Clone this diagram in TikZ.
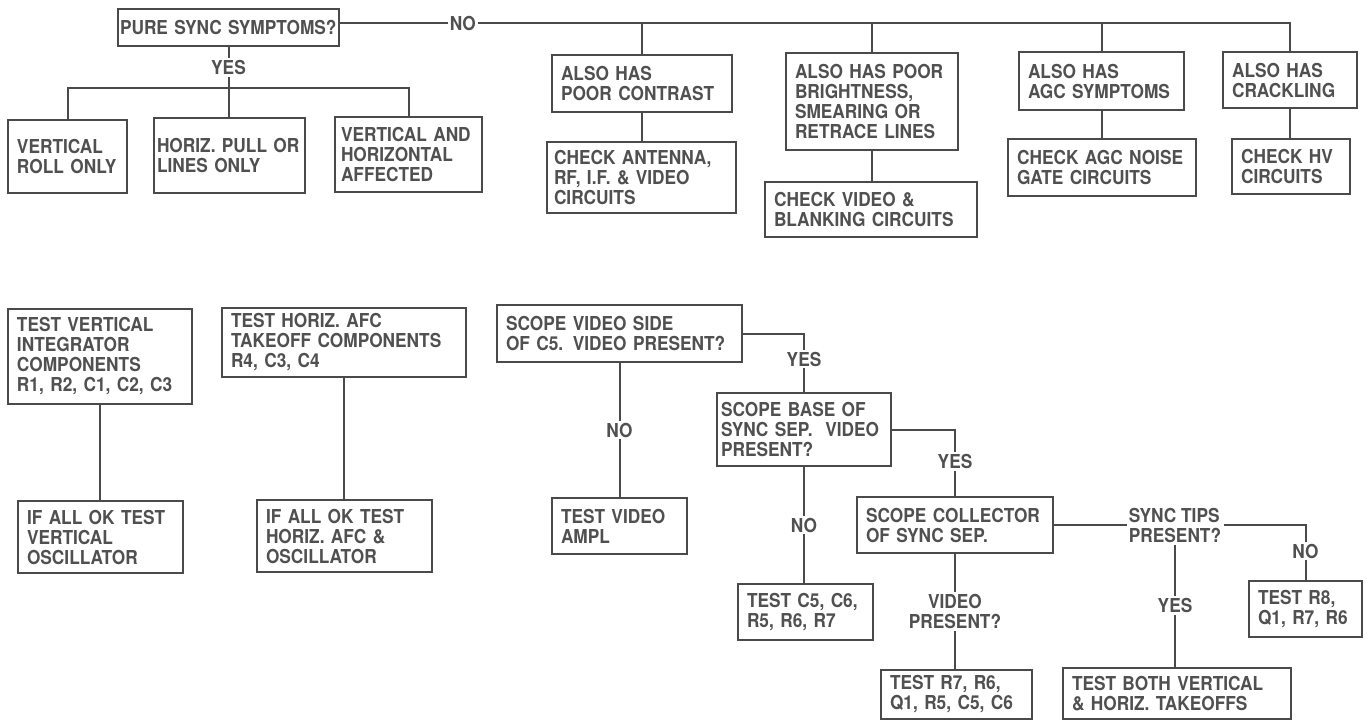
\documentclass[tikz,border=0pt]{standalone}
\usepackage{fontspec}
\setmainfont{TeX Gyre Heros}[FakeStretch=0.9]
\definecolor{linecol}{HTML}{4A4A4A}
\definecolor{textcol}{HTML}{505050}
\hyphenpenalty=10000\relax
\exhyphenpenalty=10000\relax
\newcommand\mybox[7][4.5]{%
  \pgfmathsetmacro\bw{(#4-#3)*0.5}%
  \pgfmathsetmacro\bh{(#6-#5)*0.5}%
  \pgfmathsetmacro\bcx{(#3+#4)/2}%
  \pgfmathsetmacro\bcy{(#5+#6)/2}%
  \pgfmathsetmacro\tw{\bw-2*#1}%
  \node[box,inner xsep=#1pt,minimum width=\bw pt,minimum height=\bh pt,text width=\tw pt] (#2) at (\bcx,\bcy) {#7};}
\begin{document}
\begin{tikzpicture}[x=0.5pt,y=-0.5pt,
  box/.style={draw=linecol,line width=1.35pt,text=textcol,align=left,inner ysep=2pt,
    font=\fontsize{9.6}{10}\selectfont\bfseries},
  conn/.style={draw=linecol,line width=1pt},
  lbl/.style={fill=white,text=textcol,inner sep=1pt,font=\fontsize{9.6}{10}\selectfont\bfseries,align=left}]
\path[fill=white,use as bounding box] (0,0) rectangle (1368,720);

% top row
\mybox[1]{pure}{118}{339}{9}{46}{PURE SYNC SYMPTOMS?}
\mybox{vroll}{8}{127}{120}{193}{VERTICAL\\ROLL ONLY}
\mybox[1.5]{hpull}{154}{305}{118}{193}{HORIZ. PULL OR\\LINES ONLY}
\mybox[3]{vh}{335}{482}{117}{192}{VERTICAL AND\\HORIZONTAL\\AFFECTED}
\mybox{contr}{552}{732}{55}{112}{ALSO HAS\\POOR CONTRAST}
\mybox[3.5]{ant}{547}{736}{142}{213}{CHECK ANTENNA,\\RF, I.F. \& VIDEO\\CIRCUITS}
\mybox{bright}{786}{958}{53}{150}{ALSO HAS POOR\\BRIGHTNESS,\\SMEARING OR\\RETRACE LINES}
\mybox{vblank}{765}{977}{182}{237}{CHECK VIDEO \&\\BLANKING CIRCUITS}
\mybox{agc}{1019}{1184}{52}{110}{ALSO HAS\\AGC SYMPTOMS}
\mybox{agcn}{1008}{1196}{139}{196}{CHECK AGC NOISE\\GATE CIRCUITS}
\mybox{crack}{1223}{1357}{52}{108}{ALSO HAS\\CRACKLING}
\mybox{hv}{1232}{1350}{139}{194}{CHECK HV\\CIRCUITS}

% lower left
\mybox{tvi}{8}{192}{309}{404}{TEST VERTICAL\\INTEGRATOR\\COMPONENTS\\R1, R2, C1, C2, C3}
\mybox{ifv}{18}{183}{501}{573}{IF ALL OK TEST\\VERTICAL\\OSCILLATOR}
\mybox{thafc}{222}{466}{308}{377}{TEST HORIZ. AFC\\TAKEOFF COMPONENTS\\R4, C3, C4}
\mybox{ifh}{257}{432}{500}{572}{IF ALL OK TEST\\HORIZ. AFC \&\\OSCILLATOR}

% lower middle / right
\mybox{svs}{497}{742}{305}{362}{SCOPE VIDEO SIDE\\OF C5. VIDEO PRESENT?}
\mybox{tva}{552}{687}{498}{554}{TEST VIDEO\\AMPL}
\mybox[2]{sbase}{717}{891}{393}{466}{SCOPE BASE OF\\SYNC SEP.\ \ VIDEO\\PRESENT?}
\mybox{coll}{857}{1053}{497}{553}{SCOPE COLLECTOR\\OF SYNC SEP.}
\mybox{tc5}{738}{873}{584}{640}{TEST C5, C6,\\R5, R6, R7}
\mybox{tr7}{881}{1032}{670}{719}{TEST R7, R6,\\Q1, R5, C5, C6}
\mybox{r8}{1249}{1362}{581}{637}{TEST R8,\\Q1, R7, R6}
\mybox{both}{1063}{1291}{668}{719}{TEST BOTH VERTICAL\\\& HORIZ. TAKEOFFS}

\node[lbl] (tips) at (1175,525) {SYNC TIPS\\PRESENT?};

% connectors: top
\coordinate (tb) at ([yshift=2.25pt]pure.east);
\draw[conn] (tb) -- node[lbl,pos=0.129]{NO} (tb -| crack.north) -- (crack.north);
\draw[conn] (tb -| contr.north) -- (contr.north);
\draw[conn] (tb -| bright.north) -- (bright.north);
\draw[conn] (tb -| agc.north) -- (agc.north);
\draw[conn] (contr.south) -- (contr.south |- ant.north);
\draw[conn] (bright.south) -- (bright.south |- vblank.north);
\draw[conn] (agc.south) -- (agc.south |- agcn.north);
\draw[conn] (crack.south) -- (crack.south |- hv.north);

\coordinate (yb) at (228.5,88);
\draw[conn] (pure.south) -- node[lbl]{YES} (yb);
\draw[conn] (vroll.north) |- (yb) -| (vh.north);
\draw[conn] (yb) -- (yb |- hpull.north);

% lower left
\draw[conn] (tvi.south) -- (tvi.south |- ifv.north);
\draw[conn] (thafc.south) -- (thafc.south |- ifh.north);

% lower middle
\draw[conn] (svs.south) -- node[lbl]{NO} (svs.south |- tva.north);
\draw[conn] (svs.east) -| node[lbl,pos=0.72]{YES} (sbase.north);
\draw[conn] (sbase.east) -| node[lbl,pos=0.74]{YES} (coll.north);
\draw[conn] (sbase.south) -- node[lbl]{NO} (sbase.south |- tc5.north);
\draw[conn] (coll.south) -- node[lbl,align=center]{VIDEO\\PRESENT?} (coll.south |- tr7.north);
\draw[conn] (coll.east) -- (coll.east -| tips.west);
\draw[conn] (tips.east) -| node[lbl,pos=0.74]{NO} (r8.north);
\draw[conn] (tips.south) -- node[lbl]{YES} (tips.south |- both.north);
\end{tikzpicture}
\end{document}
